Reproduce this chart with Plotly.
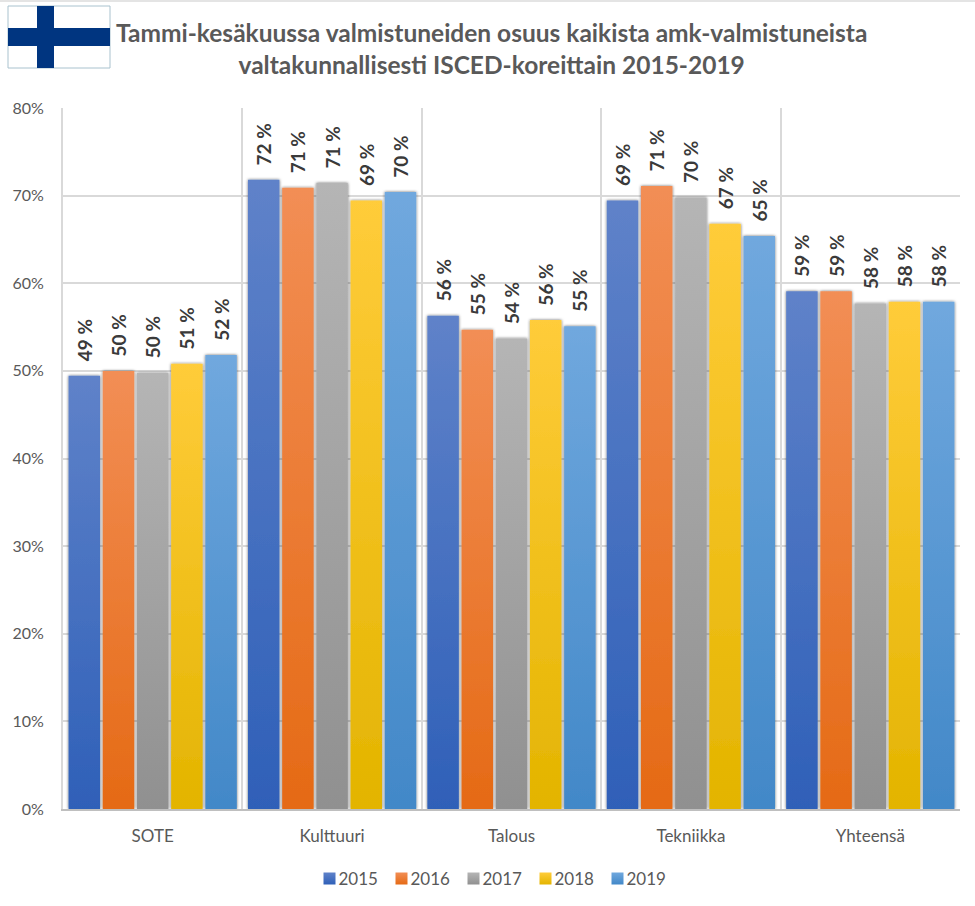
import plotly.graph_objects as go

categories = ["SOTE", "Kulttuuri", "Talous", "Tekniikka", "Yhteensä"]
years = ["2015", "2016", "2017", "2018", "2019"]
v2015 = [49.45, 71.8, 56.3, 69.45, 59.1]
v2016 = [50.0, 70.9, 54.7, 71.1, 59.1]
v2017 = [49.8, 71.45, 53.7, 69.8, 57.7]
v2018 = [50.8, 69.45, 55.8, 66.8, 57.9]
v2019 = [51.8, 70.4, 55.1, 65.4, 57.9]
series = [v2015, v2016, v2017, v2018, v2019]
mid_colors = ["#4472C4", "#ED7D31", "#A5A5A5", "#FFC000", "#5B9BD5"]
top_colors = ["#5F82C9", "#F28E55", "#B5B5B5", "#FFCC3A", "#70A8DE"]
bot_colors = ["#2F60B8", "#E56A15", "#909090", "#E3B400", "#4288C8"]

W, H = 975, 906
L, R, T, B = 63, 15, 108, 97
PW, PH = W - L - R, H - T - B
FONT = "Lato, Carlito, 'Open Sans', sans-serif"
GREY = "#595959"


def px(x):
    return (x - L) / PW


def py(y):
    return (H - B - y) / PH


fig = go.Figure()
for name, vals, col in zip(years, series, mid_colors):
    fig.add_trace(go.Bar(
        name=name, x=categories, y=vals, marker=dict(color=col, line=dict(width=0)),
        texttemplate="\u00a0\u00a0\u2009<b>%{y:.0f} %</b>", textposition="outside", textangle=-90, cliponaxis=False,
        constraintext="none",
        textfont=dict(family=FONT, size=19, color="#3A3A3A", weight=900),
    ))

flag_shapes = [
    dict(x0=8, x1=110, y0=6, y1=68, fillcolor="#FFFFFF", line=dict(color="#A9C2CE", width=1)),
    dict(x0=37, x1=54, y0=6, y1=68, fillcolor="#003580", line=dict(width=0)),
    dict(x0=8, x1=110, y0=28, y1=46, fillcolor="#003580", line=dict(width=0)),
    dict(x0=0, x1=975, y0=0, y1=2, fillcolor="#E4E4E4", line=dict(width=0)),
]
shapes = [dict(type="rect", xref="paper", yref="paper", x0=px(s["x0"]), x1=px(s["x1"]),
               y0=py(s["y1"]), y1=py(s["y0"]), fillcolor=s["fillcolor"], line=s["line"],
               layer="above") for s in flag_shapes]

fig.update_layout(
    width=W, height=H, margin=dict(l=L, r=R, t=T, b=B, autoexpand=False), autosize=False,
    paper_bgcolor="white", plot_bgcolor="white",
    barmode="group", bargap=0.047, bargroupgap=0.08,
    shapes=shapes,
    showlegend=True,
    legend=dict(orientation="h", x=px(494), xanchor="center", y=py(879), yanchor="middle",
                font=dict(family=FONT, size=17, color=GREY), itemwidth=30, traceorder="normal"),
    annotations=[dict(xref="paper", yref="paper", x=px(491), y=py(49), xanchor="center", yanchor="middle",
                      align="center", showarrow=False,
                      text="<b>Tammi-kesäkuussa valmistuneiden osuus kaikista amk-valmistuneista<br>"
                           "valtakunnallisesti ISCED-koreittain 2015-2019</b>",
                      font=dict(family=FONT, size=24.5, color=GREY))],
    xaxis=dict(type="category", categoryorder="array", categoryarray=categories, tickson="boundaries",
               showgrid=True, gridcolor="#D9D9D9", gridwidth=2, showline=True, linecolor="#BFBFBF",
               linewidth=2, ticks="", tickfont=dict(family=FONT, size=17, color=GREY), ticklabelstandoff=11,
               mirror=False),
    yaxis=dict(range=[0, 80], tickvals=[0, 10, 20, 30, 40, 50, 60, 70, 80],
               ticktext=["0%", "10%", "20%", "30%", "40%", "50%", "60%", "70%", "80%"],
               showgrid=True, gridcolor="#D9D9D9", gridwidth=2, zeroline=False, showline=True,
               linecolor="#D9D9D9", linewidth=2, ticks="", ticklabelstandoff=14,
               tickfont=dict(family=FONT, size=16, color=GREY)),
)

stops = ",".join(f"['{t}','{b}']" for t, b in zip(top_colors, bot_colors))
post = """
document.body.style.margin='0';document.documentElement.style.overflow='hidden';
(function(){
 var gd=document.querySelector('.plotly-graph-div');
 var svg=gd.querySelector('svg.main-svg');
 var ns='http://www.w3.org/2000/svg';
 var defs=document.createElementNS(ns,'defs');
 var st=[%s];
 st.forEach(function(c,i){
  var g=document.createElementNS(ns,'linearGradient');
  g.setAttribute('id','bargrad'+i);g.setAttribute('x1','0');g.setAttribute('y1','0');g.setAttribute('x2','0');g.setAttribute('y2','1');
  var a=document.createElementNS(ns,'stop');a.setAttribute('offset','0');a.setAttribute('stop-color',c[0]);
  var b=document.createElementNS(ns,'stop');b.setAttribute('offset','1');b.setAttribute('stop-color',c[1]);
  g.appendChild(a);g.appendChild(b);defs.appendChild(g);
 });
 var f=document.createElementNS(ns,'filter');f.setAttribute('id','barshadow');
 f.setAttribute('x','-15%%');f.setAttribute('y','-2%%');f.setAttribute('width','130%%');f.setAttribute('height','103%%');
 var d=document.createElementNS(ns,'feDropShadow');d.setAttribute('dx','0');d.setAttribute('dy','0');d.setAttribute('stdDeviation','1.6');d.setAttribute('flood-color','#000');d.setAttribute('flood-opacity','0.6');
 f.appendChild(d);defs.appendChild(f);
 svg.insertBefore(defs,svg.firstChild);
 gd.querySelectorAll('.barlayer .trace.bars').forEach(function(t,i){
  t.querySelectorAll('.point path').forEach(function(p){p.style.fill='url(#bargrad'+i+')';p.style.filter='url(#barshadow)';});
 });
 gd.querySelectorAll('.legend .traces').forEach(function(t,i){
  t.querySelectorAll('.legendbar path, .legendpoints path').forEach(function(p){p.style.fill='url(#bargrad'+i+')';});
  var m=(t.getAttribute('transform')||'').match(/translate\\(([^,]+),\\s*([^)]+)\\)/);
  var y=m?m[2]:0;
  t.setAttribute('transform','translate('+(16+72*i)+','+y+')');
  var s=t.querySelector('.legendsymbols');
  if(s){s.setAttribute('transform','translate(11,0)');}
 });
})();
""" % stops

fig.write_html("out.html", post_script=post, config={"displayModeBar": False})
